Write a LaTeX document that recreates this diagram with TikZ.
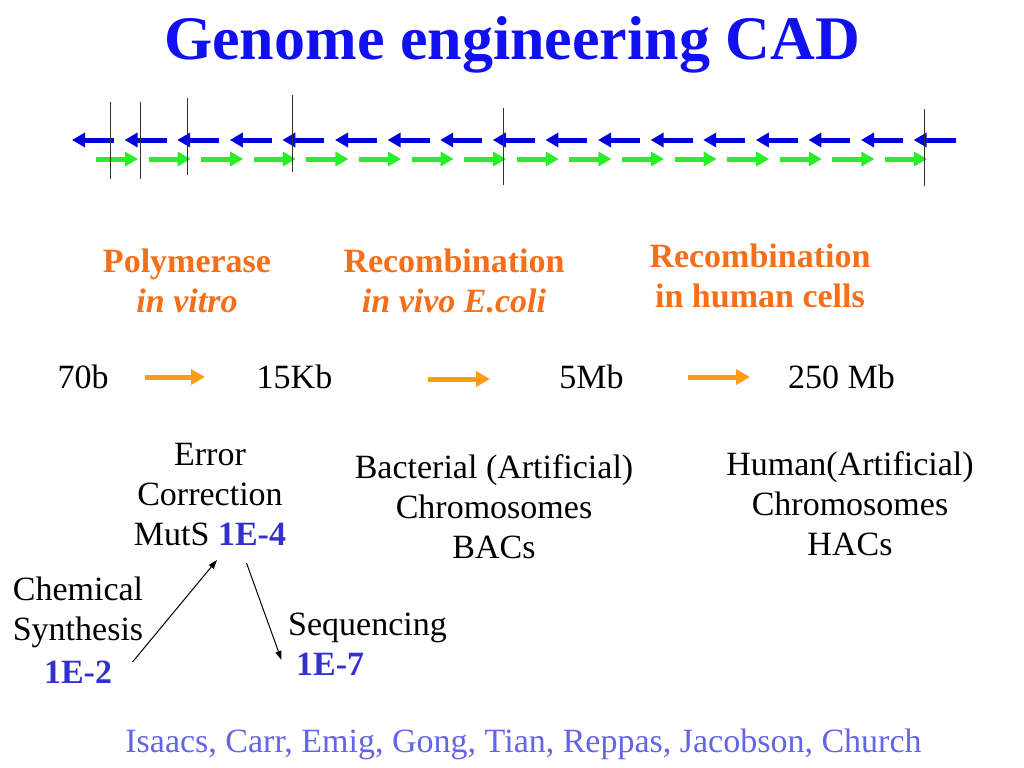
\documentclass[tikz,border=0pt]{standalone}
\usepackage{fontspec}
\setmainfont{Liberation Serif}
\usetikzlibrary{arrows.meta}
\definecolor{titleblue}{RGB}{16,16,240}
\definecolor{dblue}{RGB}{0,0,225}
\definecolor{dgreen}{RGB}{40,240,40}
\definecolor{lblorange}{RGB}{245,110,25}
\definecolor{arrorange}{RGB}{255,155,20}
\definecolor{numblue}{RGB}{50,50,200}
\definecolor{footblue}{RGB}{100,100,230}
\definecolor{tick}{RGB}{50,50,50}
\tikzset{
  txt/.style={inner sep=0pt, anchor=base, font=\fontsize{34bp}{40bp}\selectfont, align=center},
  lbl/.style={txt, text=lblorange, font=\fontsize{34bp}{40bp}\selectfont\bfseries},
  bluearr/.style={draw=dblue, line width=5bp, -{Triangle[length=13bp,width=14bp]}},
  greenarr/.style={draw=dgreen, line width=5bp, -{Triangle[length=13bp,width=14bp]}},
  orarr/.style={draw=arrorange, line width=5bp, -{Triangle[length=14bp,width=15bp]}},
  tickline/.style={draw=tick, line width=1.3bp},
  thinarr/.style={draw=black, line width=1bp, -{Triangle[length=9bp,width=6bp]}},
}
\newcommand{\nb}[1]{\textcolor{numblue}{\bfseries #1}}
\begin{document}
\begin{tikzpicture}[x=1bp,y=-1bp]
\useasboundingbox (0,0) rectangle (1024,768);
% title
\node[inner sep=0pt, anchor=base, text=titleblue, font=\fontsize{62bp}{70bp}\selectfont\bfseries] (title) at (512,60) {Genome engineering CAD};
% arrow rows
\foreach \i in {0,...,16} {
  \draw[bluearr] ({72+52.6*\i+42},140) -- ({72+52.6*\i},140);
}
\foreach \i in {0,...,15} {
  \draw[greenarr] ({96+52.6*\i},159) -- ({96+52.6*\i+42},159);
}
% tick lines
\draw[tickline] (110.7,102) -- (110.7,179);
\draw[tickline] (140.7,102) -- (140.7,179);
\draw[tickline] (187.3,98) -- (187.3,175);
\draw[tickline] (292.7,95) -- (292.7,172);
\draw[tickline] (503.3,108) -- (503.3,185);
\draw[tickline] (924.3,109) -- (924.3,186);
% method labels (base anchor = baseline of last line)
\node[lbl] (poly) at (187,312) {Polymerase\\\itshape in vitro};
\node[lbl] (recA) at (454,312) {Recombination\\\itshape in vivo E.coli};
\node[lbl] (recB) at (760,307) {Recombination\\in human cells};
% sizes
\node[txt] (s70) at (83,388) {70b};
\node[txt] (s15) at (294.5,388) {15Kb};
\node[txt] (s5) at (591.5,388) {5Mb};
\node[txt] (s250) at (841.5,388) {250 Mb};
\draw[orarr] (145,377) -- (205,377);
\draw[orarr] (428,379) -- (490,379);
\draw[orarr] (688,377) -- (750,377);
% lower block
\node[txt] (err) at (210,545) {Error\\Correction\\MutS \nb{1E-4}};
\node[txt] (bac) at (494,558) {Bacterial (Artificial)\\Chromosomes\\BACs};
\node[txt] (hac) at (850,555) {Human(Artificial)\\Chromosomes\\HACs};
\node[txt] (chem) at (78,683) {Chemical\\Synthesis\\[3bp]\nb{1E-2}};
\node[txt, align=left, anchor=base west] (seq) at (288,675) {Sequencing\\\hspace*{8bp}\nb{1E-7}};
\coordinate (c1) at (132.5,662);
\coordinate (c2) at (217,560);
\coordinate (c3) at (246.5,563);
\coordinate (c4) at (281.5,660);
\draw[thinarr] (c1) -- (c2);
\draw[thinarr] (c3) -- (c4);
% footer
\node[txt, text=footblue] (foot) at (523.5,752) {Isaacs, Carr, Emig, Gong, Tian, Reppas, Jacobson, Church};
\end{tikzpicture}
\end{document}
